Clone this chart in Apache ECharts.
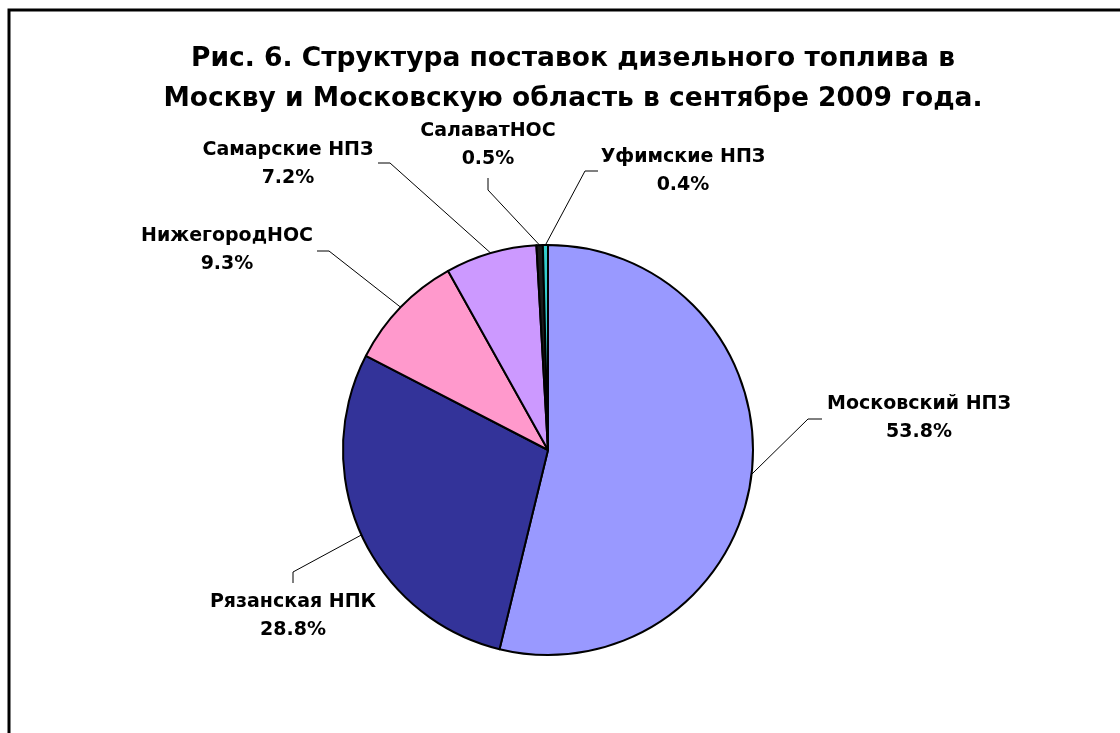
<!DOCTYPE html>
<html>
<head>
<meta charset="utf-8">
<script src="https://cdn.jsdelivr.net/npm/echarts@6/dist/echarts.min.js"></script>
<style>
  html, body { margin: 0; padding: 0; background: #fff; }
  #chart { width: 1120px; height: 733px; }
</style>
</head>
<body>
<div id="chart"></div>
<script>
// данные (доля, %)
const titleLines = ['Рис. 6. Структура поставок дизельного топлива в', 'Москву и Московскую область в сентябре 2009 года.'];
const suppliers = ['Московский НПЗ', 'Рязанская НПК', 'НижегородНОС', 'Самарские НПЗ', 'СалаватНОС', 'Уфимские НПЗ'];
const shares = [53.8, 28.8, 9.3, 7.2, 0.5, 0.4];

// оформление
const sliceColors = ['#9999FF', '#333399', '#FF99CC', '#CC99FF', '#1a1a1a', '#33CCCC'];
const fontFamily = 'Tahoma, "DejaVu Sans", sans-serif';
const pieCenter = [548, 450];
const pieRadius = 205;

// положение подписей относительно центра круга: текст, излом выноски, конец выноски
const labelPlace = [
    { text: [371, -32], elbow: [260, -31], end: [274, -31] },
    { text: [-255, 166], elbow: [-255, 122], end: [-255, 133] },
    { text: [-321, -200], elbow: [-219, -199], end: [-231, -199] },
    { text: [-260, -286], elbow: [-158, -287], end: [-170, -287] },
    { text: [-60, -305], elbow: [-60, -260], end: [-60, -272] },
    { text: [135, -279], elbow: [37, -279], end: [50, -279] }
];

const chart = echarts.init(document.getElementById('chart'));

const option = {
    backgroundColor: '#fff',
    animation: false,
    title: {
        text: titleLines.join('\n'),
        left: 573,
        top: 39,
        padding: 0,
        textAlign: 'center',
        textStyle: {
            fontFamily: fontFamily,
            fontWeight: 'bold',
            fontSize: 26.5,
            lineHeight: 40,
            color: '#000'
        }
    },
    graphic: [{
        // рамка области диаграммы (правый и нижний края за пределами снимка)
        type: 'rect',
        shape: { x: 9, y: 10, width: 1300, height: 900 },
        style: { fill: 'none', stroke: '#000', lineWidth: 3 },
        silent: true
    }],
    series: [{
        type: 'pie',
        center: pieCenter,
        radius: pieRadius,
        startAngle: 90,
        clockwise: true,
        percentPrecision: 1,
        avoidLabelOverlap: false,
        data: suppliers.map((name, i) => ({
            name: name,
            value: shares[i],
            itemStyle: { color: sliceColors[i] }
        })),
        itemStyle: { borderColor: '#000', borderWidth: 2 },
        label: {
            show: true,
            position: 'outside',
            formatter: '{b}\n{d}%',
            fontFamily: fontFamily,
            fontWeight: 'bold',
            fontSize: 19,
            lineHeight: 28,
            color: '#000',
            align: 'center'
        },
        labelLine: {
            show: true,
            length: 20,
            length2: 10,
            smooth: false,
            lineStyle: { color: '#000', width: 1 }
        },
        labelLayout: function (params) {
            const p = labelPlace[params.dataIndex];
            const cx = pieCenter[0], cy = pieCenter[1];
            let start = params.labelLinePoints && params.labelLinePoints[0];
            if (!start) {
                // середина дуги сектора
                const total = shares.reduce((a, b) => a + b, 0);
                const before = shares.slice(0, params.dataIndex).reduce((a, b) => a + b, 0);
                const ang = (before + shares[params.dataIndex] / 2) / total * 2 * Math.PI;
                start = [cx + pieRadius * Math.sin(ang), cy - pieRadius * Math.cos(ang)];
            }
            return {
                x: cx + p.text[0],
                y: cy + p.text[1],
                align: 'center',
                verticalAlign: 'middle',
                labelLinePoints: [
                    start,
                    [cx + p.elbow[0], cy + p.elbow[1]],
                    [cx + p.end[0], cy + p.end[1]]
                ]
            };
        },
        emphasis: { disabled: true }
    }]
};

chart.setOption(option);
</script>
</body>
</html>
